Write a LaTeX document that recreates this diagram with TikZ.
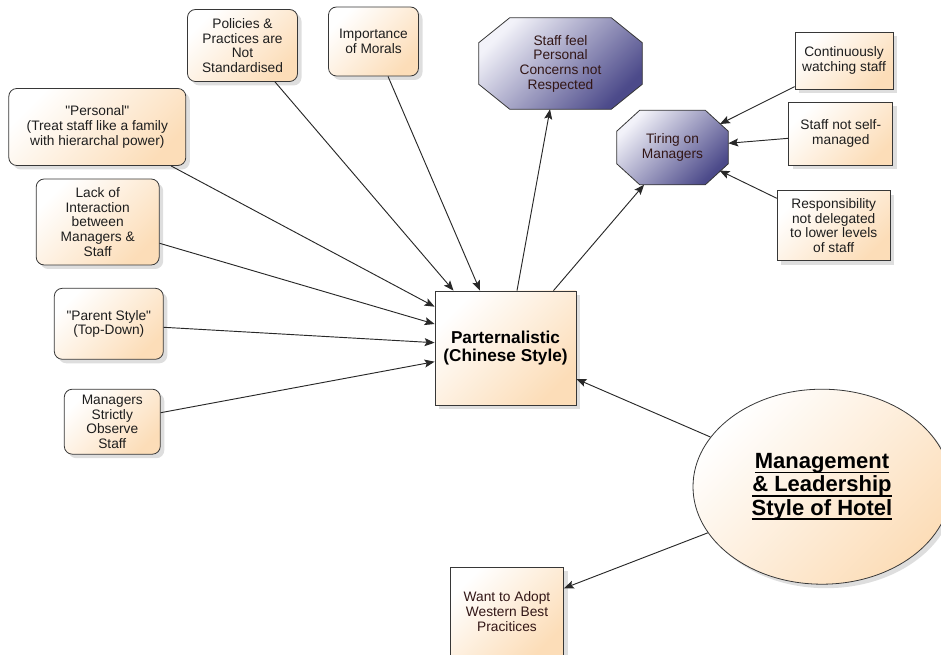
\documentclass[tikz,border=0pt]{standalone}
\usepackage{fontspec}
\setmainfont{Liberation Sans}
\usetikzlibrary{arrows.meta,calc,shadows,backgrounds,shapes.geometric}
\definecolor{peachc}{RGB}{252,221,184}
\definecolor{lavone}{RGB}{242,242,249}
\definecolor{lavtwo}{RGB}{76,74,138}
\definecolor{bordc}{RGB}{55,55,55}
\definecolor{linec}{RGB}{40,40,40}
\definecolor{txtc}{RGB}{30,30,30}
\definecolor{darkred}{RGB}{50,22,22}
\newcommand\myul[1]{\setbox0\hbox{#1}\rlap{\rule[-3.4pt]{\wd0}{1.2pt}}\box0}
\tikzset{
  base/.style={draw=bordc, line width=0.6pt, align=center, inner sep=0pt,
    font=\fontsize{10.3pt}{11pt}\selectfont, text=txtc},
  peach/.style={top color=white, bottom color=peachc, shading angle=45},
  shad/.style={drop shadow={shadow xshift=3pt, shadow yshift=-3pt, fill=black, opacity=0.13}},
  rbox/.style={base, peach, rounded corners=6pt, shad},
  sbox/.style={base, peach, shad},
  otext/.style={inner sep=0pt, align=center, font=\fontsize{10.3pt}{11pt}\selectfont, text=darkred},
  octfill/.style={top color=lavone, bottom color=lavtwo, shading angle=45, draw=bordc, line width=0.6pt},
  conn/.style={draw=linec, line width=0.7pt, -{Stealth[length=7.5pt,width=6pt,inset=1.5pt]}},
}
\begin{document}
\begin{tikzpicture}[x=0.75pt,y=-0.75pt]
\useasboundingbox (0,0) rectangle (941,655);

% left / top rounded boxes
\node[rbox, minimum width=82.5pt, minimum height=54pt] (pol) at (242.5,45.5) {Policies \&\\Practices are\\Not\\Standardised};
\node[rbox, minimum width=67.5pt, minimum height=51.75pt] (imp) at (373.5,41.5) {Importance\\of Morals};
\node[rbox, minimum width=132.75pt, minimum height=57.75pt] (per) at (97.3,127) {\textquotedbl Personal\textquotedbl\\(Treat staff like a family\\with hierarchal power)};
\node[rbox, minimum width=92.25pt, minimum height=64.5pt] (lack) at (97.7,222) {Lack of\\Interaction\\between\\Managers \&\\Staff};
\node[rbox, minimum width=81.75pt, minimum height=53.25pt] (pst) at (108.8,323.8) {\textquotedbl Parent Style\textquotedbl\\(Top-Down)};
\node[rbox, minimum width=72pt, minimum height=48.75pt] (mso) at (112.3,421.7) {Managers\\Strictly\\Observe\\Staff};

% central box
\node[sbox, minimum width=105.75pt, minimum height=85.5pt, text=black,
      font=\bfseries\fontsize{12.9pt}{14pt}\selectfont] (par) at (505.5,348) {Parternalistic\\(Chinese Style)};

% octagons
\node[otext, minimum width=122.25pt, minimum height=68.25pt] (sfp) at (560.5,63.5) {Staff feel\\Personal\\Concerns not\\Respected};
\node[otext, minimum width=83.25pt, minimum height=55.5pt] (tir) at (672.5,147.5) {Tiring on\\Managers};
\begin{scope}[on background layer]
\shade[octfill] ($(sfp.north west)+(31,0)$) -- ($(sfp.north east)+(-31,0)$) -- ($(sfp.north east)+(0,25)$) -- ($(sfp.south east)+(0,-25)$) -- ($(sfp.south east)+(-31,0)$) -- ($(sfp.south west)+(31,0)$) -- ($(sfp.south west)+(0,-25)$) -- ($(sfp.north west)+(0,25)$) -- cycle;
\shade[octfill] ($(tir.north west)+(23,0)$) -- ($(tir.north east)+(-23,0)$) -- ($(tir.north east)+(0,21)$) -- ($(tir.south east)+(0,-21)$) -- ($(tir.south east)+(-23,0)$) -- ($(tir.south west)+(23,0)$) -- ($(tir.south west)+(0,-21)$) -- ($(tir.north west)+(0,21)$) -- cycle;
\end{scope}

% right boxes
\node[sbox, minimum width=73.5pt, minimum height=42.75pt] (cws) at (844,60.7) {Continuously\\watching staff};
\node[sbox, minimum width=78pt, minimum height=47.25pt] (sns) at (840.8,133.7) {Staff not self-\\managed};
\node[sbox, minimum width=84.75pt, minimum height=52.5pt] (resp) at (833.7,225.7) {Responsibility\\not delegated\\to lower levels\\of staff};

% ellipse
\node[ellipse, base, peach, shad, minimum width=193.5pt, minimum height=146.25pt, text=black,
      font=\bfseries\fontsize{16.5pt}{17.5pt}\selectfont] (mls) at (822,486.7)
      {\myul{Management}\\\myul{\& Leadership}\\\myul{Style of Hotel}};

% bottom box
\node[sbox, minimum width=84.75pt, minimum height=66.75pt, text=darkred] (want) at (507,611.5) {Want to Adopt\\Western Best\\Pracitices};

% connectors
\draw[conn] ($(pol.south)+(32.5,0)$) -- ($(par.north)+(-52,0)$);
\draw[conn] ($(imp.south)+(14.5,0)$) -- ($(par.north)+(-25.5,0)$);
\draw[conn] ($(per.south)+(73.7,0)$) -- ($(par.west)+(0,-41.3)$);
\draw[conn] ($(lack.east)+(0,21.3)$) -- ($(par.west)+(0,-24)$);
\draw[conn] ($(pst.east)+(0,3.5)$) -- ($(par.west)+(0,-5.3)$);
\draw[conn] ($(mso.east)+(0,-9)$) -- ($(par.west)+(0,13.7)$);
\draw[conn] ($(par.north)+(11.5,0)$) -- ($(sfp.south)+(-10.5,0)$);
\draw[conn] ($(par.north)+(48,0)$) -- ($(tir.south)+(-28.5,0)$);
\draw[conn] ($(cws.south west)+(0,-3)$) -- ($(tir.center)+(47.5,-23.5)$);
\draw[conn] ($(sns.west)+(0,4.6)$) -- ($(tir.east)+(0,-4.2)$);
\draw[conn] ($(resp.west)+(0,-27.4)$) -- ($(tir.center)+(47,23)$);
\draw[conn] (mls.156) -- ($(par.east)+(0,31)$);
\draw[conn] (mls.202) -- ($(want.east)+(0,-23.2)$);
\end{tikzpicture}
\end{document}
